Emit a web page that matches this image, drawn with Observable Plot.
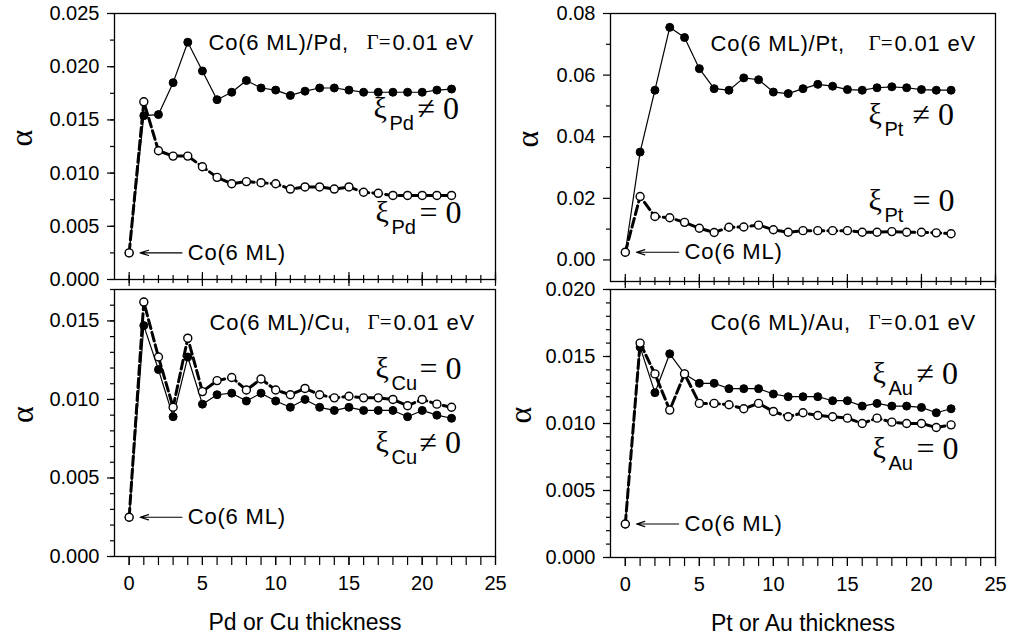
<!DOCTYPE html>
<html><head><meta charset="utf-8">
<script src="https://cdn.jsdelivr.net/npm/d3@7"></script>
<script src="https://cdn.jsdelivr.net/npm/@observablehq/plot@0.6"></script>
<style>
body{margin:0;background:#fff;}
#fig{position:relative;width:1009px;height:641px;overflow:hidden;background:#fff;}
#fig svg{position:absolute;}
</style></head><body><div id="fig"></div>
<script>
// thickness (ML) of the cap layer
const thickness = [0,1,2,3,4,5,6,7,8,9,10,11,12,13,14,15,16,17,18,19,20,21,22];

// Co(6 ML)/Pd
const pdXiOn  = [0.0025,0.0154,0.0155,0.0185,0.0223,0.0196,0.0169,0.0176,0.0187,0.0180,0.0178,0.0173,0.0177,0.0180,0.0180,0.0178,0.0176,0.0176,0.0176,0.0176,0.0176,0.0178,0.0179];
const pdXiOff = [0.0025,0.0167,0.0121,0.0116,0.0116,0.0106,0.0096,0.0090,0.0092,0.0091,0.0090,0.0085,0.0087,0.0087,0.0085,0.0087,0.0082,0.0081,0.0079,0.0079,0.0079,0.0079,0.0079];
// Co(6 ML)/Pt
const ptXiOn  = [0.0025,0.0350,0.0551,0.0755,0.0722,0.0621,0.0556,0.0551,0.0591,0.0585,0.0545,0.0540,0.0556,0.0570,0.0564,0.0553,0.0551,0.0559,0.0562,0.0559,0.0553,0.0551,0.0551];
const ptXiOff = [0.0025,0.0206,0.0141,0.0137,0.0122,0.0103,0.0089,0.0106,0.0107,0.0113,0.0098,0.0090,0.0095,0.0095,0.0095,0.0095,0.0090,0.0090,0.0092,0.0090,0.0090,0.0088,0.0085];
// Co(6 ML)/Cu
const cuXiOn  = [0.0025,0.0147,0.0119,0.0089,0.0127,0.0097,0.0103,0.0104,0.0099,0.0104,0.0099,0.0095,0.0100,0.0095,0.0093,0.0095,0.0093,0.0093,0.0093,0.0089,0.0093,0.0090,0.0088];
const cuXiOff = [0.0025,0.0162,0.0127,0.0095,0.0139,0.0105,0.0112,0.0114,0.0106,0.0113,0.0106,0.0103,0.0107,0.0103,0.0101,0.0102,0.0101,0.0101,0.0100,0.0096,0.0100,0.0097,0.0095];
// Co(6 ML)/Au
const auXiOn  = [0.0025,0.0157,0.0123,0.0152,0.0137,0.0130,0.0130,0.0126,0.0126,0.0126,0.0122,0.0120,0.0120,0.0120,0.0117,0.0117,0.0113,0.0115,0.0113,0.0113,0.0112,0.0108,0.0111];
const auXiOff = [0.0025,0.0160,0.0137,0.0110,0.0137,0.0115,0.0115,0.0114,0.0111,0.0115,0.0109,0.0105,0.0108,0.0106,0.0105,0.0104,0.0100,0.0104,0.0101,0.0100,0.0100,0.0097,0.0099];

// tick labels
const xMajor = [0,5,10,15,20,25];
const xMinor = [0,1,2,3,4,5,6,7,8,9,10,11,12,13,14,15,16,17,18,19,20,21,22,23,24,25];
const yTicksPd = [0,0.005,0.010,0.015,0.020,0.025];
const yTicksPt = [0,0.02,0.04,0.06,0.08];
const yTicksCu = [0,0.005,0.010,0.015];
const yTicksAu = [0,0.005,0.010,0.015,0.020];

const SANS = "Liberation Sans, Arial, Helvetica, sans-serif";
const SERIF = "Liberation Serif, Times New Roman, DejaVu Serif, serif";

function label(s, o) {
  return Plot.text([s], {frameAnchor: "top-left", lineAnchor: "middle", textAnchor: "start", text: d => d, ...o});
}

function xiLabel(sub, rel, dx, dy) {
  return [
    label("ξ", {dx, dy, fontSize: 30, fontFamily: SERIF}),
    label(sub, {dx: dx + 16, dy: dy + 15, fontSize: 20, fontFamily: SANS}),
    label(rel + " 0", {dx: dx + 44, dy, fontSize: 32, fontFamily: SERIF})
  ];
}

function title(metal, dx, dy) {
  return [
    label(`Co(6 ML)/${metal},`, {dx, dy, fontSize: 22, fontFamily: SANS}),
    label("Γ=", {dx: dx + 158, dy, fontSize: 21, fontFamily: SERIF}),
    label("0.01 eV", {dx: dx + 184, dy, fontSize: 22, fontFamily: SANS})
  ];
}

function panel(cfg) {
  const on = thickness.map((x, i) => ({x, y: cfg.on[i]}));
  const off = thickness.map((x, i) => ({x, y: cfg.off[i]}));
  const xAxes = cfg.bottom ? [
    Plot.axisX(xMinor, {tickSize: 9, fill: "none", label: null, strokeWidth: 1.2}),
    Plot.axisX(xMajor, {tickSize: 9, tickPadding: 10, fontSize: 20, label: null, strokeWidth: 1.2, tickFormat: d => String(d)}),
    Plot.text([cfg.xLabel], {frameAnchor: "bottom", lineAnchor: "middle", text: d => d, dy: 66, fontSize: 23, fontFamily: SANS})
  ] : [
    Plot.axisX(xMinor, {tickSize: 8, dy: -4, fill: "none", label: null, strokeWidth: 1.2}),
    Plot.axisX(xMajor, {tickSize: 14, dy: -7, fill: "none", label: null, strokeWidth: 1.2})
  ];
  const start = {x1: thickness[0] + 3.6, x2: thickness[0] + 0.75, y: cfg.off[0]};
  const svg = Plot.plot({
    width: cfg.width, height: cfg.height,
    marginLeft: cfg.ml, marginRight: cfg.mr, marginTop: cfg.mt, marginBottom: cfg.mb,
    x: {domain: [-1, 25]},
    y: {domain: cfg.yDomain},
    style: {background: "transparent", overflow: "visible", fontFamily: SANS, fontSize: "20px", color: "black"},
    marks: [
      Plot.axisY(cfg.yMinor, {tickSize: 4, fill: "none", label: null, strokeWidth: 1.2}),
      Plot.axisY(cfg.yTicks, {tickSize: 7, tickPadding: 8, fontSize: 20, label: null, strokeWidth: 1.2, tickFormat: d3.format(cfg.yFmt)}),
      ...xAxes,
      Plot.frame({stroke: "black", strokeWidth: 1.3}),
      Plot.text(["α"], {frameAnchor: "left", lineAnchor: "middle", text: d => d, dx: cfg.alphaDx, rotate: -90, fontSize: 32, fontFamily: SERIF}),
      Plot.line(on, {x: "x", y: "y", stroke: "black", strokeWidth: 1.2}),
      Plot.dot(on, {x: "x", y: "y", r: 4, fill: "black", stroke: "black", strokeWidth: 1}),
      Plot.line(off, {x: "x", y: "y", stroke: "black", strokeWidth: 3, strokeDasharray: "9,4"}),
      Plot.dot(off, {x: "x", y: "y", r: 4, fill: "white", stroke: "black", strokeWidth: 1.4}),
      Plot.arrow([start], {x1: "x1", x2: "x2", y1: "y", y2: "y", stroke: "black", strokeWidth: 1.2, headLength: 11, headAngle: 35}),
      Plot.text([start], {x: d => d.x1 + 0.4, y: "y", text: () => "Co(6 ML)", textAnchor: "start", lineAnchor: "middle", fontSize: 22, fontFamily: SANS}),
      ...title(cfg.metal, cfg.tdx, cfg.tdy),
      ...cfg.xi.flatMap(([sub, rel, dx, dy]) => xiLabel(sub, rel, dx, dy))
    ]
  });
  svg.style.left = cfg.left + "px";
  svg.style.top = cfg.top + "px";
  d3.select(svg).selectAll('g[aria-label="text"][font-size="22"][font-family^="Liberation Sans"] text').attr("letter-spacing", "0.8");
  document.getElementById("fig").appendChild(svg);
}

const step = (a, b, s) => d3.range(Math.round((b - a) / s) + 1).map(i => +(a + i * s).toFixed(5));

panel({metal: "Pd", on: pdXiOn, off: pdXiOff, yDomain: [0, 0.025], yTicks: yTicksPd, yMinor: step(0, 0.025, 0.0025), yFmt: ".3f",
  left: 0, top: 0, width: 505, height: 289, ml: 114, mr: 10, mt: 13, mb: 10, alphaDx: -93, bottom: false,
  tdx: 94, tdy: 29, xi: [["Pd", "≠", 259, 95], ["Pd", "=", 261, 199]]});
panel({metal: "Pt", on: ptXiOn, off: ptXiOff, yDomain: [-0.007, 0.08], yTicks: yTicksPt, yMinor: step(0.01, 0.07, 0.02), yFmt: ".2f",
  left: 505, top: 0, width: 504, height: 289, ml: 105, mr: 14, mt: 13, mb: 8, alphaDx: -83, bottom: false,
  tdx: 100, tdy: 30, xi: [["Pt", "≠", 258, 101], ["Pt", "=", 258, 187]]});
panel({metal: "Cu", on: cuXiOn, off: cuXiOff, yDomain: [0, 0.017], yTicks: yTicksCu, yMinor: step(0, 0.017, 0.001), yFmt: ".3f",
  left: 0, top: 287, width: 505, height: 354, ml: 114, mr: 10, mt: 2, mb: 85, alphaDx: -92, bottom: true, xLabel: "Pd or Cu thickness",
  tdx: 95, tdy: 33, xi: [["Cu", "=", 261, 79], ["Cu", "≠", 261, 153]]});
panel({metal: "Au", on: auXiOn, off: auXiOff, yDomain: [0, 0.020], yTicks: yTicksAu, yMinor: step(0, 0.020, 0.001), yFmt: ".3f",
  left: 505, top: 287, width: 504, height: 354, ml: 105, mr: 14, mt: 2, mb: 84, alphaDx: -90, bottom: true, xLabel: "Pt or Au thickness",
  tdx: 100, tdy: 33, xi: [["Au", "≠", 262, 84], ["Au", "=", 262, 159]]});
</script></body></html>
